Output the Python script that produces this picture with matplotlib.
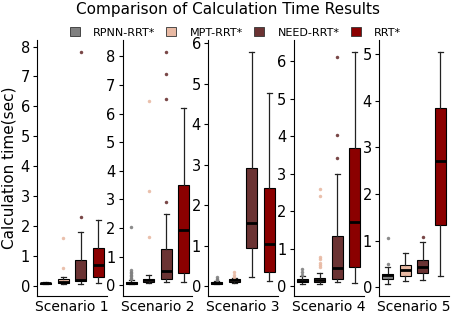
import matplotlib
matplotlib.use("Agg")
import matplotlib.pyplot as plt
from matplotlib.patches import Patch
from matplotlib.ticker import MultipleLocator

scenarios = ["Scenario 1", "Scenario 2", "Scenario 3", "Scenario 4", "Scenario 5"]
methods = ["RPNN-RRT*", "MPT-RRT*", "NEED-RRT*", "RRT*"]
colors = ["#808080", "#e8b9a3", "#6b3333", "#8b0000"]

# per scenario, per method (RPNN, MPT, NEED, RRT)
medians = [
    [0.08, 0.13, 0.20, 0.70],
    [0.08, 0.17, 0.48, 1.93],
    [0.08, 0.14, 1.55, 1.04],
    [0.15, 0.17, 0.49, 1.72],
    [0.26, 0.36, 0.44, 2.71],
]
q1s = [
    [0.06, 0.10, 0.15, 0.31],
    [0.06, 0.12, 0.23, 0.43],
    [0.06, 0.10, 0.93, 0.35],
    [0.11, 0.12, 0.20, 0.51],
    [0.17, 0.24, 0.31, 1.34],
]
q3s = [
    [0.10, 0.22, 0.85, 1.26],
    [0.12, 0.22, 1.28, 3.51],
    [0.10, 0.17, 2.92, 2.42],
    [0.20, 0.23, 1.33, 3.69],
    [0.29, 0.47, 0.59, 3.84],
]
whislos = [
    [0.05, 0.07, 0.05, 0.08],
    [0.03, 0.08, 0.12, 0.12],
    [0.04, 0.07, 0.23, 0.12],
    [0.07, 0.05, 0.11, 0.08],
    [0.06, 0.13, 0.15, 0.24],
]
whishis = [
    [0.12, 0.31, 1.79, 2.20],
    [0.20, 0.36, 2.50, 6.19],
    [0.13, 0.20, 5.79, 4.77],
    [0.28, 0.35, 3.00, 6.25],
    [0.44, 0.74, 0.97, 5.05],
]
fliers = [
    [[], [0.59, 1.60], [2.30, 7.83], []],
    [[0.22, 0.27, 0.32, 0.37, 0.42, 0.47, 0.52, 2.02], [1.70, 3.29, 6.43], [2.90, 6.52, 7.40, 8.17], []],
    [[0.15, 0.18, 0.21], [0.22, 0.28, 0.34], [], []],
    [[0.31, 0.38, 0.45], [0.51, 0.57, 0.63, 0.73, 0.78, 2.40, 2.60], [3.42, 4.02, 6.12], []],
    [[0.49, 1.06], [], [1.08], []],
]

fig = plt.figure(figsize=(4.57, 3.13), dpi=100)
left0 = 37 / 457
w = 70 / 457
step = 85.5 / 457
bottom = 1 - 296 / 313
height = (296 - 40) / 313

for i, name in enumerate(scenarios):
    ax = fig.add_axes([left0 + i * step, bottom, w, height])
    stats = []
    for j in range(len(methods)):
        stats.append({
            "med": medians[i][j], "q1": q1s[i][j], "q3": q3s[i][j],
            "whislo": whislos[i][j], "whishi": whishis[i][j],
            "fliers": fliers[i][j],
        })
    bp = ax.bxp(stats, positions=range(4), widths=0.62, patch_artist=True,
                boxprops=dict(edgecolor="black", linewidth=0.8),
                medianprops=dict(color="black", linewidth=2.0),
                whiskerprops=dict(color="#222222", linewidth=0.9),
                capprops=dict(color="#222222", linewidth=0.9),
                flierprops=dict(marker="o", markersize=2.5, markeredgewidth=0))
    for j, box in enumerate(bp["boxes"]):
        box.set_facecolor(colors[j])
        bp["fliers"][j].set_markerfacecolor(colors[j])
        bp["fliers"][j].set_alpha(0.9)
    ax.set_xlim(-0.5, 3.5)
    ax.set_xticks([1.5])
    ax.set_xticklabels([name], fontsize=10)
    ax.tick_params(axis="x", length=0, pad=3)
    ax.tick_params(axis="y", labelsize=10.5, length=3, pad=2)
    ax.yaxis.set_major_locator(MultipleLocator(1))
    ax.spines["top"].set_visible(False)
    ax.spines["right"].set_visible(False)
    if i == 0:
        ax.set_ylabel("Calculation time(sec)", fontsize=11, labelpad=3)

handles = [Patch(facecolor=c, edgecolor="#333333", linewidth=0.6) for c in colors]
fig.legend(handles, methods, loc="upper center", bbox_to_anchor=(0.515, 0.945),
           ncol=4, frameon=False, fontsize=8, handlelength=0.9, handleheight=0.9,
           handletextpad=1.2, columnspacing=1.0)
fig.suptitle("Comparison of Calculation Time Results", fontsize=11, y=0.995)

fig.savefig("out.png", dpi=100)
